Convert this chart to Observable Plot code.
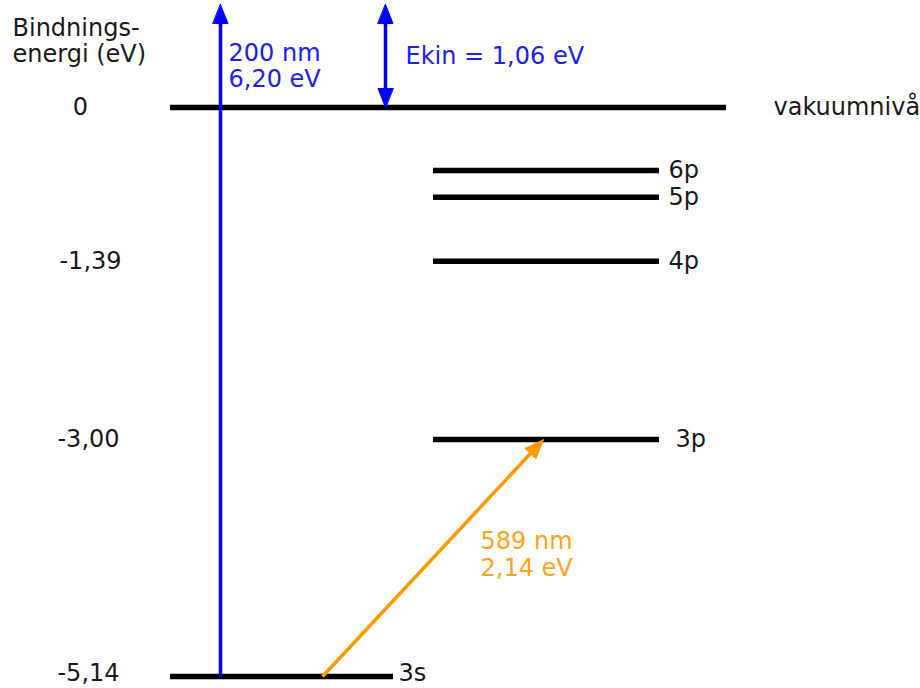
<!DOCTYPE html>
<html><head><meta charset="utf-8">
<script src="https://cdn.jsdelivr.net/npm/d3@7"></script>
<script src="https://cdn.jsdelivr.net/npm/@observablehq/plot@0.6"></script>
<style>
  html, body { margin: 0; padding: 0; background: #fff; }
  #chart { width: 920px; height: 688px; }
</style>
</head><body>
<div id="chart"></div>
<script>
// ---------- DATA (energies in eV) ----------
const levelNames    = ["vakuumnivå", "6p", "5p", "4p", "3p", "3s"];
const levelEnergies = [0, -0.57, -0.81, -1.39, -3.00, -5.14];
const tickValues    = [0, -1.39, -3.00, -5.14];
const tickLabels    = ["0", "-1,39", "-3,00", "-5,14"];
const axisTitle     = "Bindnings-\nenergi (eV)";
const ionLabel      = "200 nm\n6,20 eV";     // ionising photon
const naDLabel      = "589 nm\n2,14 eV";     // sodium D line photon
const kinLabel      = "Ekin = 1,06 eV";
const groundEnergy  = -5.14;                 // 3s
const excitedEnergy = -3.00;                 // 3p
const visibleTop    = 0.93;                  // arrows run off the top edge of the picture

// ---------- LAYOUT (horizontal positions are arbitrary diagram columns) ----------
const W = 920, H = 688;
const levelX1 = [170, 433, 433, 433, 433, 170];
const levelX2 = [726, 659, 659, 659, 659, 393];
const levelLabelX = [773, 668, 668, 668, 675, 398];
const tickX = [80, 90, 88, 88];
const ionX = 220, kinX = 385, naX1 = 322, naX2 = 543;
const fs = 24;
const font = "DejaVu Sans";
const black = "#000", textCol = "#1a1a1a";
const blue = "#0000ff", blueText = "#2020ee";
const orange = "#ff9900", orangeText = "#ffa31f";
const headLen = 19, headR = 7.5;

const xRange = [0, W];
const yDomain = [-5.14, 0], yRange = [676, 107];
const ys = d3.scaleLinear(yDomain, yRange);   // same mapping as Plot's y scale
const back = (e, px) => ys.invert(ys(e) + px);  // move px downward on screen

// tables
const levels = levelNames.map((name, i) => ({
  name, energy: levelEnergies[i], x1: levelX1[i], x2: levelX2[i], lx: levelLabelX[i]
}));
const ticks = tickValues.map((v, i) => ({ v, label: tickLabels[i], x: tickX[i] }));
const isGround = e => e <= groundEnergy;

// orange arrow angle on screen
const dxs = naX2 - naX1, dys = ys(excitedEnergy) - ys(groundEnergy);
const naAngle = Math.atan2(dxs, -dys) * 180 / Math.PI;
const naLenPx = Math.hypot(dxs, dys);
const tShaft = (naLenPx - headLen * 0.6) / naLenPx;

const shafts = [
  { x1: ionX, x2: ionX, y1: groundEnergy, y2: back(visibleTop, headLen * 0.6), c: blue },
  { x1: kinX, x2: kinX, y1: back(0, -headLen * 0.6), y2: back(visibleTop, headLen * 0.6), c: blue },
  { x1: naX1, x2: naX1 + dxs * tShaft, y1: groundEnergy,
    y2: ys.invert(ys(groundEnergy) + dys * tShaft), c: orange }
];
const heads = [
  { x: ionX, y: visibleTop, rot: 0, c: blue },
  { x: kinX, y: visibleTop, rot: 0, c: blue },
  { x: kinX, y: 0, rot: 180, c: blue },
  { x: naX2, y: excitedEnergy, rot: naAngle, c: orange }
];
const headShape = {
  draw(ctx, l, r) {
    ctx.moveTo(0, -l);
    ctx.lineTo(r, 0);
    ctx.lineTo(-r, 0);
    ctx.closePath();
  }
};

const annotations = [
  { x: 12,  y: 0.407,  text: axisTitle, c: textCol },
  { x: 228, y: 0.181,  text: ionLabel,  c: blueText },
  { x: 405, y: 0.397,  text: kinLabel,  c: blueText },
  { x: 480, y: -4.228, text: naDLabel,  c: orangeText }
];

const plot = Plot.plot({
  width: W, height: H,
  margin: 0,
  x: { domain: xRange, range: xRange, axis: null },
  y: { domain: yDomain, range: yRange, axis: null },
  style: { fontFamily: font, background: "#fff", overflow: "visible" },
  marks: [
    Plot.ruleY(levels, { y: "energy", x1: "x1", x2: "x2", stroke: black, strokeWidth: 5.5 }),
    Plot.link(shafts, { x1: "x1", x2: "x2", y1: "y1", y2: "y2", stroke: d => d.c, strokeWidth: 3.5 }),
    Plot.vector(heads, {
      x: "x", y: "y", rotate: "rot", length: headLen, r: headR, anchor: "end",
      shape: headShape, fill: d => d.c, stroke: d => d.c, strokeWidth: 1
    }),
    Plot.text(levels.filter(d => !isGround(d.energy)), { x: "lx", y: "energy", text: "name",
      textAnchor: "start", lineAnchor: "middle", fontSize: fs, fill: textCol }),
    Plot.text(levels.filter(d => isGround(d.energy)), { x: "lx", y: "energy", text: "name",
      textAnchor: "start", lineAnchor: "middle", dy: -3, fontSize: fs, fill: textCol }),
    Plot.text(ticks.filter(d => !isGround(d.v)), { x: "x", y: "v", text: "label",
      textAnchor: "middle", lineAnchor: "middle", fontSize: fs, fill: textCol }),
    Plot.text(ticks.filter(d => isGround(d.v)), { x: "x", y: "v", text: "label",
      textAnchor: "middle", lineAnchor: "middle", dy: -3, fontSize: fs, fill: textCol }),
    Plot.text(annotations, { x: "x", y: "y", text: "text", textAnchor: "start",
      lineAnchor: "bottom", lineHeight: 1.1, fontSize: fs, fill: d => d.c })
  ]
});
document.getElementById("chart").appendChild(plot);
</script>
</body></html>
